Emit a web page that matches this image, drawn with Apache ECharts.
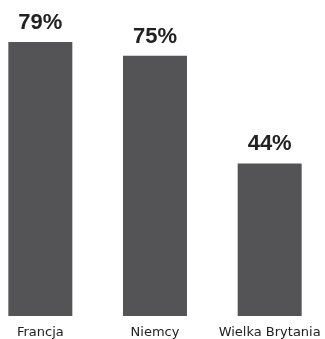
<!DOCTYPE html>
<html>
<head>
<meta charset="utf-8">
<script src="https://cdn.jsdelivr.net/npm/echarts@6/dist/echarts.min.js"></script>
<style>
  html, body { margin: 0; padding: 0; background: #fff; overflow: hidden; width: 325px; height: 339px; }
  #chart { position: absolute; left: -17px; top: 0; width: 344px; height: 339px; }
</style>
</head>
<body>
<div id="chart"></div>
<script>
// Share per country (percent)
const countries = ['Francja', 'Niemcy', 'Wielka Brytania'];
const shares = [79, 75, 44];

const chart = echarts.init(document.getElementById('chart'), null, { renderer: 'canvas' });

chart.setOption({
  animation: false,
  grid: { left: 0, right: 0, top: 42, bottom: 22.3 },
  xAxis: {
    type: 'category',
    data: countries,
    axisLine: { show: false },
    axisTick: { show: false },
    axisLabel: {
      margin: 10,
      color: '#222',
      fontFamily: 'DejaVu Sans',
      fontSize: 13,
      interval: 0
    }
  },
  yAxis: {
    type: 'value',
    min: 0,
    max: 79,
    show: false,
    splitLine: { show: false }
  },
  series: [{
    type: 'bar',
    data: shares,
    barWidth: 64,
    itemStyle: { color: '#545457' },
    label: {
      show: true,
      position: 'top',
      distance: 8,
      formatter: '{c}%',
      color: '#222',
      fontFamily: 'Liberation Sans',
      fontWeight: 'bold',
      fontSize: 22
    }
  }]
});
</script>
</body>
</html>
